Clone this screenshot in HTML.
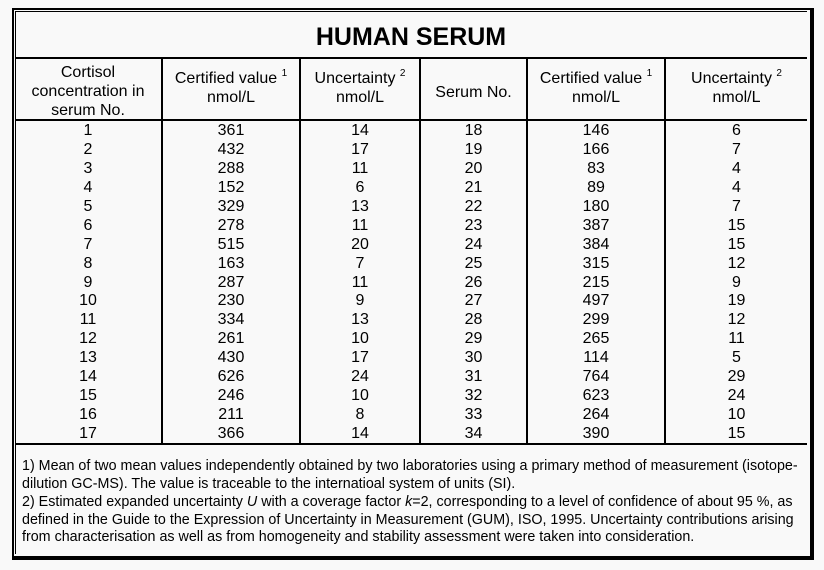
<!DOCTYPE html>
<html><head><style>
body{margin:0;width:824px;height:570px;background:#f9f9f9;position:relative;font-family:"Liberation Sans",Arial,sans-serif;color:#000;overflow:hidden}
.a{position:absolute}
.h{position:absolute;height:2px;background:#000}
.v{position:absolute;width:2px;background:#000}
.c{position:absolute;text-align:center;font-size:16px;line-height:18.94px}
.hd{position:absolute;text-align:center;font-size:16px;line-height:19px}
sup{font-size:10px;vertical-align:7px;line-height:0}
.f{position:absolute;left:22px;font-size:14.3px;line-height:17.5px;white-space:nowrap}
</style></head><body>
<div class="a" style="left:12px;top:8px;width:796px;height:546px;border:2px solid #000;border-right-width:4px;border-bottom-width:4px;box-sizing:content-box"></div>
<div class="a" style="left:15px;top:11px;width:791px;height:542px;border-top:1px solid #000;border-left:1px solid #000"></div>
<div class="a" style="left:15px;top:22px;width:792px;text-align:center;font-weight:bold;font-size:25px;line-height:30px">HUMAN SERUM</div>
<div class="h" style="left:15px;width:792px;top:57px"></div>
<div class="h" style="left:15px;width:792px;top:119px"></div>
<div class="h" style="left:15px;width:792px;top:443px"></div>
<div class="v" style="left:161px;top:57px;height:387px"></div>
<div class="v" style="left:299px;top:57px;height:387px"></div>
<div class="v" style="left:419px;top:57px;height:387px"></div>
<div class="v" style="left:526px;top:57px;height:387px"></div>
<div class="v" style="left:664px;top:57px;height:387px"></div>

<div class="hd" style="left:15px;width:146px;top:63px">Cortisol<br>concentration in<br>serum No.</div>
<div class="hd" style="left:163px;width:136px;top:69px">Certified value <sup>1</sup><br>nmol/L</div>
<div class="hd" style="left:301px;width:118px;top:69px">Uncertainty <sup>2</sup><br>nmol/L</div>
<div class="hd" style="left:421px;width:105px;top:83px">Serum No.</div>
<div class="hd" style="left:528px;width:136px;top:69px">Certified value <sup>1</sup><br>nmol/L</div>
<div class="hd" style="left:666px;width:141px;top:69px">Uncertainty <sup>2</sup><br>nmol/L</div>

<div class="c" style="left:15px;width:146px;top:122px">1<br>2<br>3<br>4<br>5<br>6<br>7<br>8<br>9<br>10<br>11<br>12<br>13<br>14<br>15<br>16<br>17</div>
<div class="c" style="left:163px;width:136px;top:122px">361<br>432<br>288<br>152<br>329<br>278<br>515<br>163<br>287<br>230<br>334<br>261<br>430<br>626<br>246<br>211<br>366</div>
<div class="c" style="left:301px;width:118px;top:122px">14<br>17<br>11<br>6<br>13<br>11<br>20<br>7<br>11<br>9<br>13<br>10<br>17<br>24<br>10<br>8<br>14</div>
<div class="c" style="left:421px;width:105px;top:122px">18<br>19<br>20<br>21<br>22<br>23<br>24<br>25<br>26<br>27<br>28<br>29<br>30<br>31<br>32<br>33<br>34</div>
<div class="c" style="left:528px;width:136px;top:122px">146<br>166<br>83<br>89<br>180<br>387<br>384<br>315<br>215<br>497<br>299<br>265<br>114<br>764<br>623<br>264<br>390</div>
<div class="c" style="left:666px;width:141px;top:122px">6<br>7<br>4<br>4<br>7<br>15<br>15<br>12<br>9<br>19<br>12<br>11<br>5<br>29<br>24<br>10<br>15</div>

<div class="f" style="top:458px">1) Mean of two mean values independently obtained by two laboratories using a primary method of measurement (isotope-<br>dilution GC-MS). The value is traceable to the internatioal system of units (SI).</div>
<div class="f" style="top:494px">2) Estimated expanded uncertainty <i>U</i> with a coverage factor <i>k</i>=2, corresponding to a level of confidence of about 95 %, as<br>defined in the Guide to the Expression of Uncertainty in Measurement (GUM), ISO, 1995. Uncertainty contributions arising<br>from characterisation as well as from homogeneity and stability assessment were taken into consideration.</div>
</body></html>
